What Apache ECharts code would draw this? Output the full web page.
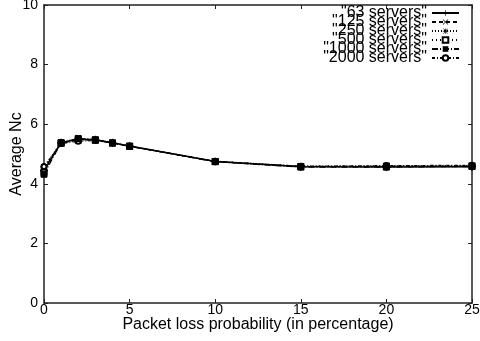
<!DOCTYPE html>
<html>
<head>
<meta charset="utf-8">
<script src="https://cdn.jsdelivr.net/npm/echarts@6/dist/echarts.min.js"></script>
<style>
  html, body { margin: 0; padding: 0; background: #fff; }
  #chart { width: 480px; height: 341px; }
</style>
</head>
<body>
<div id="chart"></div>
<script>
const xs = [0, 1, 2, 3, 4, 5, 10, 15, 20, 25];
const names = ['"63 servers"', '"125 servers"', '"250 servers"', '"500 servers"', '"1000 servers"', '"2000 servers"'];
const s63 = [4.45, 5.38, 5.50, 5.48, 5.38, 5.27, 4.75, 4.57, 4.56, 4.57];
const s125 = [4.50, 5.37, 5.48, 5.47, 5.37, 5.26, 4.75, 4.58, 4.58, 4.59];
const s250 = [4.55, 5.40, 5.52, 5.48, 5.38, 5.27, 4.76, 4.59, 4.60, 4.61];
const s500 = [4.40, 5.36, 5.47, 5.46, 5.37, 5.26, 4.75, 4.58, 4.59, 4.60];
const s1000 = [4.32, 5.38, 5.52, 5.48, 5.37, 5.26, 4.74, 4.56, 4.56, 4.58];
const s2000 = [4.58, 5.35, 5.43, 5.45, 5.37, 5.26, 4.75, 4.59, 4.61, 4.62];
const yTicks = [0, 2, 4, 6, 8, 10];
const xTicks = [0, 5, 10, 15, 20, 25];

const font = "'Liberation Sans', Arial, sans-serif";
const plus = 'path://M0,4.4H10V5.6H0Z M4.4,0H5.6V10H4.4Z';
const cross = 'path://M0,0.8L0.8,0L10,9.2L9.2,10Z M9.2,0L10,0.8L0.8,10L0,9.2Z';
const star = 'path://M0,4.4H10V5.6H0Z M4.4,0H5.6V10H4.4Z M0.8,0.2L1.6,-0.6L9.2,9.2L8.4,10Z M8.4,0L9.2,0.8L1.6,10L0.8,9.2Z';

// z: filled squares of the 1000 series sit on top, as in the reference
const styles = [
  { data: s63, symbol: plus, size: 7, type: 'solid', width: 1.5, z: 2 },
  { data: s125, symbol: cross, size: 6, type: [4, 3], width: 1.2, z: 2 },
  { data: s250, symbol: star, size: 6, type: [1, 2], width: 1.2, z: 2 },
  { data: s500, symbol: 'emptyRect', size: 5, type: [1, 3], width: 1.2, z: 2 },
  { data: s1000, symbol: 'rect', size: 6, type: [6, 2, 1, 2], width: 1.2, z: 4 },
  { data: s2000, symbol: 'emptyCircle', size: 5, type: [3, 2, 1, 2], width: 1.2, z: 3 }
];

const chart = echarts.init(document.getElementById('chart'));
chart.setOption({
  animation: false,
  textStyle: { fontFamily: font },
  grid: { left: 44, right: 8, top: 5, bottom: 38, outerBoundsMode: 'none', containLabel: false },
  legend: {
    orient: 'vertical',
    align: 'right',
    right: 15,
    top: 0,
    itemWidth: 27,
    itemHeight: 7,
    itemGap: -7,
    textStyle: { fontSize: 16, color: '#000', fontFamily: font },
    data: names
  },
  xAxis: [{
    type: 'value',
    min: xTicks[0],
    max: xTicks[xTicks.length - 1],
    interval: 5,
    name: 'Packet loss probability (in percentage)',
    nameLocation: 'middle',
    nameGap: 14,
    nameMoveOverlap: false,
    nameTextStyle: { fontSize: 16, color: '#000' },
    axisLine: { lineStyle: { color: '#222', width: 1.5 } },
    axisTick: { inside: true, length: 4, lineStyle: { color: '#222' } },
    axisLabel: { fontSize: 14, color: '#000', margin: 0 },
    splitLine: { show: false }
  }, {
    type: 'value',
    position: 'top',
    min: xTicks[0],
    max: xTicks[xTicks.length - 1],
    interval: 5,
    axisLine: { onZero: false, lineStyle: { color: '#222', width: 1.5 } },
    axisTick: { inside: true, length: 4, lineStyle: { color: '#222' } },
    axisLabel: { show: false },
    splitLine: { show: false }
  }],
  yAxis: [{
    type: 'value',
    min: yTicks[0],
    max: yTicks[yTicks.length - 1],
    interval: 2,
    name: 'Average Nc',
    nameLocation: 'middle',
    nameGap: 19,
    nameMoveOverlap: false,
    nameTextStyle: { fontSize: 16, color: '#000' },
    axisLine: { show: true, lineStyle: { color: '#222', width: 1.5 } },
    axisTick: { show: true, inside: true, length: 4, lineStyle: { color: '#222' } },
    axisLabel: { fontSize: 14, color: '#000', margin: 6 },
    splitLine: { show: false }
  }, {
    type: 'value',
    position: 'right',
    min: yTicks[0],
    max: yTicks[yTicks.length - 1],
    interval: 2,
    axisLine: { show: true, onZero: false, lineStyle: { color: '#222', width: 1.5 } },
    axisTick: { show: true, inside: true, length: 4, lineStyle: { color: '#222' } },
    axisLabel: { show: false },
    splitLine: { show: false }
  }],
  series: styles.map((s, i) => ({
    name: names[i],
    type: 'line',
    z: s.z,
    data: xs.map((x, j) => [x, s.data[j]]),
    symbol: s.symbol,
    symbolSize: s.size,
    showAllSymbol: true,
    color: '#000',
    lineStyle: { color: '#000', width: s.width, type: s.type },
    itemStyle: { color: '#000', borderColor: '#000' }
  }))
});
</script>
</body>
</html>
